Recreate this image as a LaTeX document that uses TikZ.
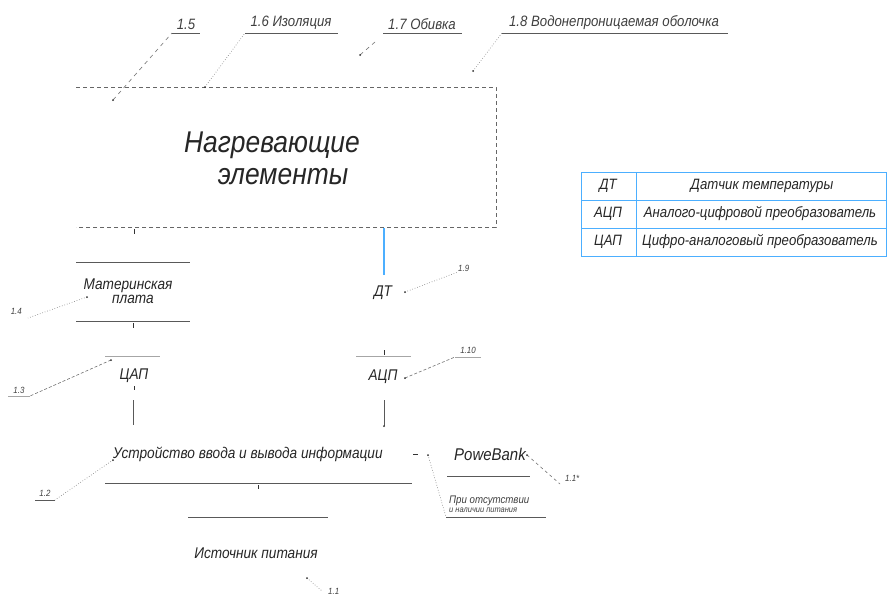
\documentclass[tikz,border=0pt]{standalone}
\usepackage{fontspec}
\setmainfont{Liberation Sans}
\newfontfamily\gost[FakeStretch=0.88]{Liberation Sans}
\begin{document}
\begin{tikzpicture}[x=1pt,y=-1pt,
  txt/.style={inner sep=0pt,font=\gost\itshape\fontsize{15.5}{17}\selectfont,text=black!85},
  big/.style={inner sep=0pt,font=\gost\itshape\fontsize{30}{34}\selectfont,text=black!85,align=center},
  lbl/.style={inner sep=0pt,font=\gost\itshape\fontsize{15}{17}\selectfont,text=black!75},
  tiny/.style={inner sep=0pt,font=\gost\itshape\fontsize{9}{10}\selectfont,text=black!75},
  tab/.style={inner sep=0pt,font=\gost\itshape\fontsize{15}{17}\selectfont,text=black!85},
  bar/.style={draw=black!65,line width=0.9pt},
  lightbar/.style={draw=black!35,line width=0.8pt},
  leader/.style={draw=black!55,dotted,line width=0.6pt},
  dleader/.style={draw=black!55,dash pattern=on 4pt off 4pt,line width=0.6pt},
  tick/.style={draw=black!80,line width=1pt},
  blueline/.style={draw=blue!45!cyan!70,line width=1.2pt},
  dot/.style={circle,fill=black!80,inner sep=0pt,minimum size=2pt}]
\useasboundingbox (0,0) rectangle (891,600);
\fill[white] (0,0) rectangle (891,600);

% heating elements box
\draw[draw=black!60,dash pattern=on 4pt off 3pt,line width=0.7pt] (76,87) -- (496,87) -- (496,227) -- (76,227);
\node[big] (heat) at (272,158) {Нагревающие\\[-2pt]\hspace*{22pt}элементы};

% top labels
\node[lbl,anchor=south] (l15) at (186,30) {1.5};
\draw[bar] (172,33) coordinate (u15a) -- (200,33);
\coordinate (p15) at (113,100);
\draw[dleader] (p15) -- (u15a);
\node[dot] at (p15) {};

\node[lbl,anchor=south] (l16) at (291,30) {1.6 Изоляция};
\draw[bar] (245,33) coordinate (u16a) -- (338,33);
\coordinate (p16) at (205,87);
\draw[leader] (p16) -- (u16a);
\node[dot] at (p16) {};

\node[lbl,anchor=south] (l17) at (422,30) {1.7 Обивка};
\draw[bar] (383,33) coordinate (u17a) -- (462,33);
\coordinate (p17) at (360,55);
\draw[dleader] (p17) -- (375,42);
\node[dot] at (p17) {};

\node[lbl,anchor=south] (l18) at (614,30) {1.8 Водонепроницаемая оболочка};
\draw[bar] (502,33) coordinate (u18a) -- (728,33);
\coordinate (p18) at (473,71);
\draw[leader] (p18) -- (u18a);
\node[dot] at (p18) {};

% temperature sensor
\coordinate (hb) at (384,228);
\node[txt] (dt) at (383,293) {ДТ};
\draw[blueline] (hb) -- (384,275);
\coordinate (p19) at (405,292);
\node[tiny,anchor=south west] (l19) at (458,272) {1.9};
\draw[leader] (p19) -- (l19.south west);
\node[dot] at (p19) {};

% motherboard
\draw[tick] (134,229) -- (134,234);
\draw[bar] (76,262) -- (190,262);
\node[txt,align=center] (mb) at (128,291) {Материнская\\[-3pt]\hspace*{10pt}плата};
\draw[bar] (76,321) -- (190,321);
\draw[tick] (133,323) -- (133,328);
\coordinate (p14) at (87,297);
\node[tiny,anchor=east] (l14) at (22,311) {1.4};
\draw[leader] (p14) -- (28,318);
\node[dot] at (p14) {};

% DAC
\draw[lightbar] (105,356) -- (160,356);
\node[txt] (dac) at (134,376) {ЦАП};
\coordinate (p13) at (111,360);
\node[tiny,anchor=south] (l13) at (19,394) {1.3};
\draw[lightbar] (8,396) -- (30,396);
\draw[dleader,dash pattern=on 3pt off 2pt] (p13) -- (30,396);
\node[dot] at (p13) {};
\draw[tick] (134,386) -- (134,390);
\draw[bar] (133,400) -- (133,425);

% ADC
\draw[tick] (384,350) -- (384,355);
\draw[lightbar] (356,356) -- (411,356);
\node[txt] (adc) at (383,377) {АЦП};
\coordinate (p110) at (405,378);
\node[tiny,anchor=south] (l110) at (468,354) {1.10};
\draw[lightbar] (455,357) -- (481,357);
\draw[dleader,dash pattern=on 3pt off 2pt] (p110) -- (455,357);
\node[dot] at (p110) {};
\draw[bar] (384,400) -- (384,426);
\node[dot] at (384,426) {};

% I/O device
\node[txt,anchor=west] (io) at (113,454) {Устройство ввода и вывода информации};
\coordinate (p12) at (113,460);
\node[tiny,anchor=south] (l12) at (45,497) {1.2};
\draw[bar] (35,500) -- (55,500);
\draw[leader] (p12) -- (55,500);
\node[dot] at (p12) {};
\draw[bar] (105,483) -- (412,483);
\draw[tick] (258,485) -- (258,489);

% power source
\draw[bar] (188,517) -- (328,517);
\node[txt] (ps) at (256,553) {Источник питания};
\coordinate (p11) at (307,578);
\draw[leader] (p11) -- (322,591);
\node[dot] at (p11) {};
\node[tiny,anchor=west] (l11) at (328,591) {1.1};

% PowerBank
\draw[tick] (413,454) -- (418,454);
\node[txt,font=\gost\itshape\fontsize{17}{19}\selectfont] (pb) at (490,454) {PoweBank};
\draw[bar] (447,476) -- (530,476);
\coordinate (p11s) at (527,455);
\node[tiny,anchor=west] (l11s) at (565,478) {1.1*};
\draw[dleader,dash pattern=on 3pt off 3pt] (p11s) -- (560,484);
\node[dot] at (p11s) {};
\node[tiny,anchor=west,align=left] (note) at (449,504) {{\fontsize{11}{12}\selectfont При отсутствии}\\[-1pt]{\fontsize{8.5}{9}\selectfont и наличии питания}};
\draw[bar] (446,517) -- (546,517);
\coordinate (p11n) at (428,455);
\draw[leader] (p11n) -- (446,517);
\node[dot] at (p11n) {};

% legend table
\begin{scope}[draw=blue!45!cyan!70,line width=1pt]
\draw (581,172) rectangle (886,256);
\draw (581,200) -- (886,200);
\draw (581,228) -- (886,228);
\draw (636,172) -- (636,256);
\end{scope}
\node[tab] (t1a) at (608,186) {ДТ};
\node[tab] (t1b) at (762,186) {Датчик температуры};
\node[tab] (t2a) at (608,214) {АЦП};
\node[tab] (t2b) at (760,214) {Аналого-цифровой преобразователь};
\node[tab] (t3a) at (608,242) {ЦАП};
\node[tab] (t3b) at (760,242) {Цифро-аналоговый преобразователь};
\end{tikzpicture}
\end{document}
